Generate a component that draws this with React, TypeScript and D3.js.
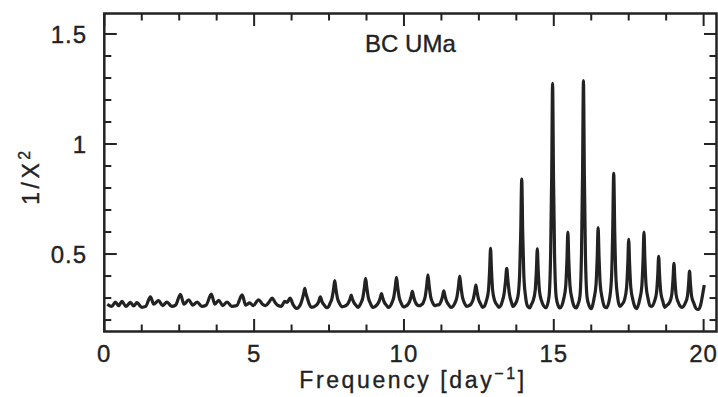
import React from "react";
import * as d3 from "d3";

// Periodogram of BC UMa: 1/chi^2 versus trial frequency (cycles per day).
// Vertices are [frequency, power] pairs, split by band.
const lowBand: [number, number][] = [
  [0.10, 0.272], [0.25, 0.262], [0.37, 0.282], [0.48, 0.265], [0.59, 0.285], [0.72, 0.262],
  [0.87, 0.280], [0.98, 0.264], [1.09, 0.279], [1.25, 0.258], [1.38, 0.262], [1.54, 0.306],
  [1.65, 0.272], [1.81, 0.288], [1.95, 0.266], [2.09, 0.282], [2.25, 0.262], [2.38, 0.268],
  [2.54, 0.317], [2.66, 0.272], [2.82, 0.292], [2.95, 0.268], [3.10, 0.282], [3.25, 0.262],
  [3.40, 0.268], [3.57, 0.318], [3.69, 0.272], [3.82, 0.290], [3.95, 0.266], [4.10, 0.282],
  [4.25, 0.262], [4.42, 0.266], [4.60, 0.314], [4.72, 0.268], [4.85, 0.278], [4.97, 0.266],
];

const midBand: [number, number][] = [
  [5.15, 0.292], [5.28, 0.272], [5.38, 0.266], [5.50, 0.282], [5.60, 0.300], [5.70, 0.280],
  [5.80, 0.266], [5.91, 0.262], [6.02, 0.285], [6.10, 0.280], [6.20, 0.300], [6.30, 0.270],
  [6.42, 0.253], [6.55, 0.272], [6.62, 0.302], [6.66, 0.325], [6.69, 0.344], [6.72, 0.325],
  [6.77, 0.302], [6.84, 0.272], [6.92, 0.258], [7.08, 0.268], [7.15, 0.282], [7.21, 0.306],
  [7.27, 0.282], [7.34, 0.268], [7.42, 0.256], [7.48, 0.260], [7.53, 0.275], [7.60, 0.300],
  [7.65, 0.340], [7.69, 0.379], [7.73, 0.340], [7.78, 0.300], [7.85, 0.275], [7.93, 0.260],
  [7.99, 0.262], [8.08, 0.267], [8.15, 0.280], [8.20, 0.296], [8.24, 0.313], [8.28, 0.296],
  [8.33, 0.280], [8.40, 0.267], [8.47, 0.258], [8.56, 0.276], [8.63, 0.303], [8.68, 0.348],
  [8.72, 0.390], [8.76, 0.348], [8.81, 0.303], [8.88, 0.276], [8.96, 0.258], [9.02, 0.260],
  [9.09, 0.268], [9.16, 0.282], [9.21, 0.301], [9.25, 0.320], [9.29, 0.301], [9.34, 0.282],
  [9.41, 0.268], [9.48, 0.257], [9.52, 0.260], [9.59, 0.276], [9.66, 0.304], [9.71, 0.350],
  [9.75, 0.394], [9.79, 0.350], [9.84, 0.304], [9.91, 0.276], [9.98, 0.260], [10.04, 0.262],
  [10.12, 0.269], [10.19, 0.285], [10.24, 0.307], [10.28, 0.330], [10.32, 0.307], [10.37, 0.285],
  [10.44, 0.269], [10.52, 0.265], [10.58, 0.270], [10.64, 0.278], [10.71, 0.307], [10.76, 0.357],
  [10.80, 0.405], [10.84, 0.357], [10.89, 0.307], [10.96, 0.278], [11.03, 0.265], [11.09, 0.268],
  [11.17, 0.270], [11.24, 0.286], [11.29, 0.309], [11.33, 0.333], [11.37, 0.309], [11.42, 0.286],
  [11.49, 0.270], [11.56, 0.258], [11.63, 0.262], [11.70, 0.277], [11.77, 0.306], [11.82, 0.354],
  [11.86, 0.400], [11.90, 0.354], [11.95, 0.306], [12.02, 0.277], [12.10, 0.262], [12.16, 0.265],
  [12.24, 0.273], [12.31, 0.294], [12.36, 0.327], [12.40, 0.359], [12.44, 0.327], [12.49, 0.294],
  [12.56, 0.273], [12.62, 0.258], [12.68, 0.262],
];

const highBand: [number, number][] = [
  [12.75, 0.287], [12.82, 0.335], [12.86, 0.430], [12.89, 0.526], [12.92, 0.430], [12.96, 0.335],
  [13.03, 0.287], [13.10, 0.270], [13.17, 0.258], [13.24, 0.268], [13.27, 0.280], [13.34, 0.318],
  [13.39, 0.378], [13.43, 0.435], [13.47, 0.378], [13.52, 0.318], [13.59, 0.280], [13.64, 0.262],
  [13.70, 0.270], [13.80, 0.305], [13.86, 0.405], [13.895, 0.585], [13.93, 0.840], [13.965, 0.585],
  [14.00, 0.405], [14.06, 0.305], [14.13, 0.262], [14.20, 0.255], [14.25, 0.270], [14.31, 0.288],
  [14.38, 0.335], [14.42, 0.428], [14.45, 0.523], [14.48, 0.428], [14.52, 0.335], [14.59, 0.288],
  [14.66, 0.265], [14.74, 0.256], [14.84, 0.305], [14.895, 0.505], [14.93, 0.855], [14.96, 1.276],
  [14.99, 0.855], [15.025, 0.505], [15.08, 0.305], [15.14, 0.268], [15.21, 0.255], [15.33, 0.295],
  [15.40, 0.358], [15.44, 0.476], [15.47, 0.600], [15.50, 0.476], [15.54, 0.358], [15.61, 0.295],
  [15.68, 0.262], [15.74, 0.255], [15.80, 0.268], [15.87, 0.305], [15.925, 0.505], [15.96, 0.865],
  [15.99, 1.288], [16.02, 0.865], [16.055, 0.505], [16.11, 0.305], [16.18, 0.265], [16.25, 0.252],
  [16.34, 0.296], [16.41, 0.362], [16.45, 0.488], [16.48, 0.620], [16.51, 0.488], [16.55, 0.362],
  [16.62, 0.296], [16.69, 0.262], [16.76, 0.256], [16.87, 0.305], [16.93, 0.405], [16.965, 0.595],
  [17.00, 0.867], [17.035, 0.595], [17.07, 0.405], [17.13, 0.305], [17.20, 0.262], [17.27, 0.270],
  [17.36, 0.292], [17.43, 0.348], [17.47, 0.456], [17.50, 0.567], [17.53, 0.456], [17.57, 0.348],
  [17.64, 0.292], [17.70, 0.262], [17.76, 0.252], [17.87, 0.295], [17.94, 0.358], [17.98, 0.476],
  [18.01, 0.600], [18.04, 0.476], [18.08, 0.358], [18.15, 0.295], [18.21, 0.265], [18.27, 0.262],
  [18.36, 0.285], [18.43, 0.327], [18.47, 0.405], [18.50, 0.490], [18.53, 0.405], [18.57, 0.327],
  [18.64, 0.285], [18.70, 0.258], [18.76, 0.265], [18.87, 0.282], [18.94, 0.318], [18.98, 0.388],
  [19.01, 0.458], [19.04, 0.388], [19.08, 0.318], [19.15, 0.282], [19.21, 0.265], [19.28, 0.258],
  [19.39, 0.278], [19.46, 0.308], [19.50, 0.365], [19.53, 0.423], [19.56, 0.365], [19.60, 0.308],
  [19.67, 0.278], [19.75, 0.252], [19.82, 0.248], [19.90, 0.268], [19.96, 0.310], [20.02, 0.359],
];

const xMajorTicks = [0, 5, 10, 15, 20];
const xMinorTicks = [1.25, 2.5, 3.75, 6.25, 7.5, 8.75, 11.25, 12.5, 13.75, 16.25, 17.5, 18.75];
const yMajorTicks = [0.5, 1, 1.5];
const yMinorTicks = [0.2, 0.3, 0.4, 0.6, 0.7, 0.8, 0.9, 1.1, 1.2, 1.3, 1.4];
const xTickLabels = ["0", "5", "10", "15", "20"];
const yTickLabels = ["0.5", "1", "1.5"];
const title = "BC UMa";

const W = 718;
const H = 397;
const ink = "#222";
const font = "'Liberation Sans', Arial, Helvetica, sans-serif";

export default function App() {
  const frame = { left: 104.3, right: 716.5, top: 13.5, bottom: 331.5 };
  const x = d3.scaleLinear().domain([0, 20.43]).range([frame.left, frame.right]);
  const y = d3.scaleLinear().domain([0.148, 1.593]).range([frame.bottom, frame.top]);

  const series = [...lowBand, ...midBand, ...highBand];
  const path = d3
    .line<[number, number]>()
    .x((d) => x(d[0]))
    .y((d) => y(d[1]))
    .curve(d3.curveMonotoneX)(series) as string;

  const major = 12.5;
  const minor = 7;

  return (
    <svg
      width={W}
      height={H}
      style={{ position: "absolute", left: 0, top: 0, background: "#fff" }}
      fontFamily={font}
    >
      <rect x={0} y={0} width={W} height={H} fill="#fff" />
      {/* ticks on all four sides, pointing inward */}
      <g stroke={ink} strokeWidth={2}>
        {xMajorTicks.map((t) => (
          <g key={"xM" + t}>
            <line x1={x(t)} x2={x(t)} y1={frame.bottom} y2={frame.bottom - major} />
            <line x1={x(t)} x2={x(t)} y1={frame.top} y2={frame.top + major} />
          </g>
        ))}
        {xMinorTicks.map((t) => (
          <g key={"xm" + t}>
            <line x1={x(t)} x2={x(t)} y1={frame.bottom} y2={frame.bottom - minor} />
            <line x1={x(t)} x2={x(t)} y1={frame.top} y2={frame.top + minor} />
          </g>
        ))}
        {yMajorTicks.map((t) => (
          <g key={"yM" + t}>
            <line x1={frame.left} x2={frame.left + major} y1={y(t)} y2={y(t)} />
            <line x1={frame.right} x2={frame.right - major} y1={y(t)} y2={y(t)} />
          </g>
        ))}
        {yMinorTicks.map((t) => (
          <g key={"ym" + t}>
            <line x1={frame.left} x2={frame.left + minor} y1={y(t)} y2={y(t)} />
            <line x1={frame.right} x2={frame.right - minor} y1={y(t)} y2={y(t)} />
          </g>
        ))}
      </g>

      <path d={path} fill="none" stroke={ink} strokeWidth={3.2} strokeLinejoin="round" />

      <rect
        x={frame.left}
        y={frame.top}
        width={frame.right - frame.left}
        height={frame.bottom - frame.top}
        fill="none"
        stroke={ink}
        strokeWidth={2.5}
      />

      <g fill={ink} stroke={ink} strokeWidth={0.35} fontSize={24}>
        {xMajorTicks.map((t, i) => (
          <text key={"xl" + t} x={x(t)} y={362} textAnchor="middle" letterSpacing={1}>
            {xTickLabels[i]}
          </text>
        ))}
        {yMajorTicks.map((t, i) => (
          <text key={"yl" + t} x={87} y={y(t)} dy="0.36em" textAnchor="end" letterSpacing={1}>
            {yTickLabels[i]}
          </text>
        ))}
        <text x={(frame.left + frame.right) / 2} y={52} textAnchor="middle">
          {title}
        </text>
        <text x={413} y={388} textAnchor="middle" fontSize={23} letterSpacing={2.6}>
          Frequency [day
          <tspan dy={-9} fontSize={16}>−1</tspan>
          <tspan dy={9}>]</tspan>
        </text>
        <text transform="translate(39,176) rotate(-90)" textAnchor="middle" fontSize={23} letterSpacing={3.5}>
          1/X
          <tspan dy={-9} fontSize={16}>2</tspan>
        </text>
      </g>
    </svg>
  );
}
